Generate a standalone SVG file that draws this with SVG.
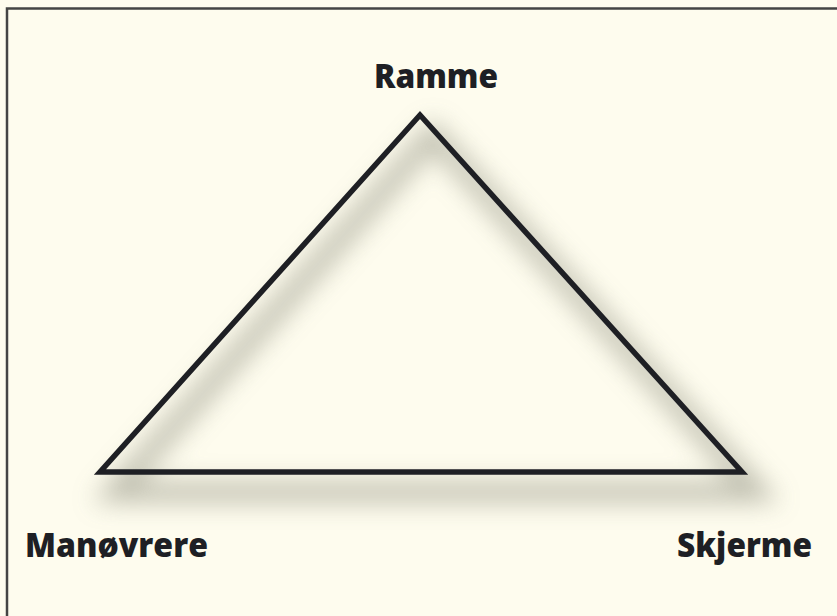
<svg xmlns="http://www.w3.org/2000/svg" width="837" height="616" viewBox="0 0 837 616">
<style>
.lbl{font-family:"Open Sans","Liberation Sans",sans-serif;font-weight:800;font-size:34px;fill:#1e1f24}
.tri{fill:none;stroke:#1e1f24;stroke-width:5.5;stroke-linejoin:miter}
</style>
<defs>
<filter id="sh" x="-20%" y="-20%" width="140%" height="140%">
<feGaussianBlur stdDeviation="13"/>
</filter>
</defs>
<rect x="0" y="0" width="837" height="616" fill="#fefcee"/>
<path d="M7 616 V8.5 H837" fill="none" stroke="#444" stroke-width="2.5"/>
<g id="connectors">
<polygon points="433,135 115,492 757,492" fill="none" stroke="#a3a393" stroke-width="20" opacity="0.7" filter="url(#sh)"/>
<polygon class="tri" points="420,115 100,472 742,472"/>
</g>
<g id="ramme"><text class="lbl" x="374" y="88" textLength="124" lengthAdjust="spacingAndGlyphs">Ramme</text></g>
<g id="manovrere"><text class="lbl" x="25" y="557" textLength="183" lengthAdjust="spacingAndGlyphs">Manøvrere</text></g>
<g id="skjerme"><text class="lbl" x="677" y="557" textLength="135" lengthAdjust="spacingAndGlyphs">Skjerme</text></g>
</svg>
